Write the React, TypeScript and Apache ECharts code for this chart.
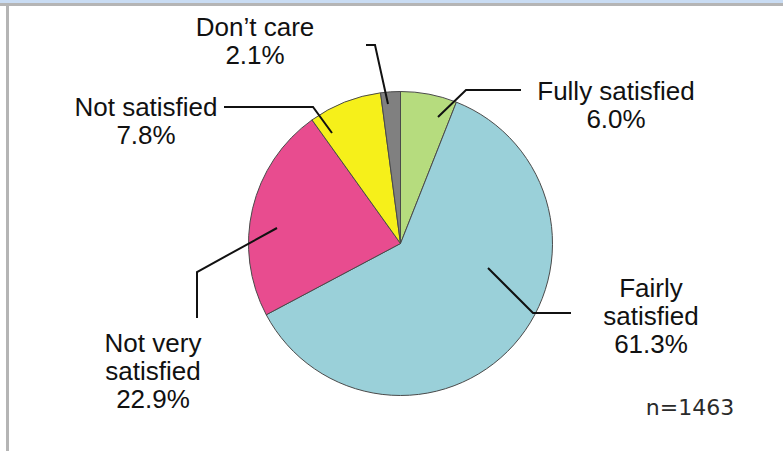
import React, { useEffect, useRef } from "react";
import * as echarts from "echarts";

const categories = ["Fully satisfied", "Fairly satisfied", "Not very satisfied", "Not satisfied", "Don\u2019t care"];
const labelTexts = ["Fully satisfied", "Fairly\nsatisfied", "Not very\nsatisfied", "Not satisfied", "Don\u2019t care"];
const values = [6.0, 61.3, 22.9, 7.8, 2.1];
const sliceColors = ["#b6dc7e", "#9ad0d9", "#e84c8f", "#f6f01a", "#808080"];
const sampleNote = "n=1463";

// label layout (pixel positions of label centres and leader lines)
const labelCenters = [
  [616, 105],
  [651, 316],
  [153, 371],
  [146, 121],
  [255, 41],
];
const leaderLines = [
  [[438, 117], [466, 90], [521, 90]],
  [[488, 268], [533, 313], [571, 313]],
  [[277, 228], [197, 272], [197, 318]],
  [[332, 133], [313, 107], [224, 107]],
  [[388, 104], [375, 45], [366, 45]],
];

export default function App() {
  const ref = useRef<HTMLDivElement>(null);
  useEffect(() => {
    if (!ref.current) return;
    const chart = echarts.init(ref.current, null, { renderer: "svg" });
    chart.setOption({
      animation: false,
      backgroundColor: "#ffffff",
      graphic: [
        { type: "rect", shape: { x: 0, y: 0, width: 783, height: 3 }, style: { fill: "#c9dcf3" }, z: 10 },
        { type: "rect", shape: { x: 0, y: 3, width: 783, height: 3 }, style: { fill: "#b5b5b5" }, z: 10 },
        { type: "rect", shape: { x: 6, y: 3, width: 3, height: 448 }, style: { fill: "#b5b5b5" }, z: 10 },
        ...leaderLines.map((pts) => ({
          type: "polyline",
          shape: { points: pts },
          style: { stroke: "#111111", lineWidth: 2, fill: null },
          z: 20,
        })),
        {
          type: "text",
          x: 690,
          y: 407,
          style: {
            text: sampleNote,
            font: "22px 'DejaVu Sans'",
            fill: "#2a2a2a",
            align: "center",
            verticalAlign: "middle",
          },
          z: 10,
        },
      ],
      series: [
        {
          type: "pie",
          center: [400.5, 243.5],
          radius: 152,
          startAngle: 90,
          clockwise: true,
          avoidLabelOverlap: false,
          itemStyle: { borderColor: "#4a4a4a", borderWidth: 1 },
          label: {
            show: true,
            position: "outside",
            fontFamily: "'Liberation Sans', Arial, sans-serif",
            fontSize: 26,
            lineHeight: 28,
            color: "#111111",
            align: "center",
            formatter: (p: any) => `${labelTexts[p.dataIndex]}\n${values[p.dataIndex].toFixed(1)}%`,
          },
          labelLine: { show: false },
          labelLayout: (p: any) => ({
            x: labelCenters[p.dataIndex][0],
            y: labelCenters[p.dataIndex][1],
            align: "center",
            verticalAlign: "middle",
          }),
          data: categories.map((c, i) => ({
            name: c,
            value: values[i],
            itemStyle: { color: sliceColors[i] },
          })),
        },
      ],
    });
    return () => chart.dispose();
  }, []);
  return (
    <div
      ref={ref}
      style={{ position: "absolute", left: 0, top: 0, width: 783, height: 451 }}
    />
  );
}
